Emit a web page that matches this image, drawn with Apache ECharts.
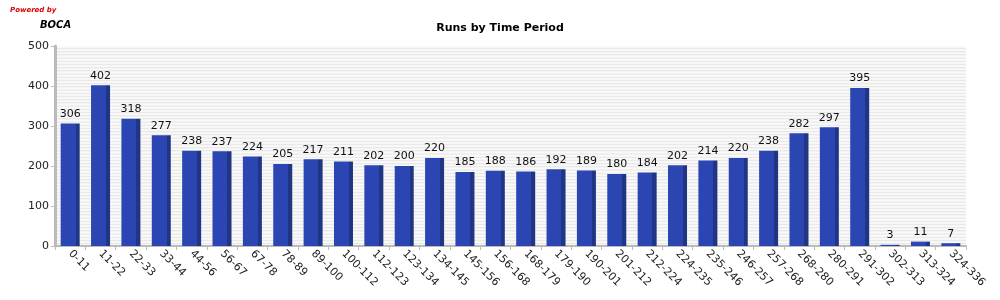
<!DOCTYPE html>
<html><head><meta charset="utf-8">
<script src="https://cdn.jsdelivr.net/npm/echarts@6/dist/echarts.min.js"></script>
<style>html,body{margin:0;padding:0;background:#fff}#c{width:1000px;height:300px}</style>
</head><body><div id="c"></div>
<script>
const categories = ["0-11","11-22","22-33","33-44","44-56","56-67","67-78","78-89","89-100","100-112","112-123","123-134","134-145","145-156","156-168","168-179","179-190","190-201","201-212","212-224","224-235","235-246","246-257","257-268","268-280","280-291","291-302","302-313","313-324","324-336"];
const runs = [306,402,318,277,238,237,224,205,217,211,202,200,220,185,188,186,192,189,180,184,202,214,220,238,282,297,395,3,11,7];
const yTicks = [0,100,200,300,400,500];
</script>
<script>
const chart = echarts.init(document.getElementById('c'), null, {renderer:'canvas'});
const barColor = new echarts.graphic.LinearGradient(0,0,1,0,[
  {offset:0,color:'#2b45b2'},{offset:0.78,color:'#2b45b2'},
  {offset:0.78,color:'#213585'},{offset:1,color:'#213585'}]);
chart.setOption({
  animation:false,
  backgroundColor:'#fff',
  graphic:[
    {type:'text',left:10,top:7,style:{text:'Powered by',fill:'#e00000',font:'italic bold 7px "DejaVu Sans"'}},
    {type:'text',left:40,top:20,style:{text:'BOCA',fill:'#000',font:'italic bold 10px "DejaVu Sans"'}}
  ],
  title:{text:'Runs by Time Period',left:'center',top:18,textStyle:{fontSize:11,fontWeight:'bold',color:'#000',fontFamily:'DejaVu Sans'}},
  grid:{left:55,right:34,top:46,bottom:54},
  xAxis:{type:'category',data:categories,
    axisLine:{lineStyle:{color:'#bbbbbb',width:2}},
    axisTick:{show:true,lineStyle:{color:'#bbbbbb'},length:4},
    axisLabel:{rotate:-45,fontSize:11,color:'#222',fontFamily:'DejaVu Sans',margin:6,interval:0}},
  yAxis:[{type:'value',min:0,max:500,interval:100,
    axisLine:{show:true,lineStyle:{color:'#bbbbbb',width:3}},
    axisTick:{show:true,lineStyle:{color:'#bbbbbb'},length:4},
    axisLabel:{fontSize:11,color:'#222',fontFamily:'DejaVu Sans',margin:6,
      formatter:v=>yTicks.includes(v)?String(v):''},
    splitLine:{show:false}},
   {type:'value',min:0,max:500,interval:4,show:true,position:'left',
    axisLine:{show:false},axisTick:{show:false},axisLabel:{show:false},
    splitLine:{show:false},
    splitArea:{show:true,areaStyle:{color:['#f9f9f9','#e9e9e9']}}}],
  series:[{type:'bar',data:runs,yAxisIndex:0,barWidth:19,
    itemStyle:{color:barColor,borderWidth:0},
    label:{show:true,position:'top',fontSize:11,color:'#111',fontFamily:'DejaVu Sans',distance:4}}]
});
</script></body></html>
